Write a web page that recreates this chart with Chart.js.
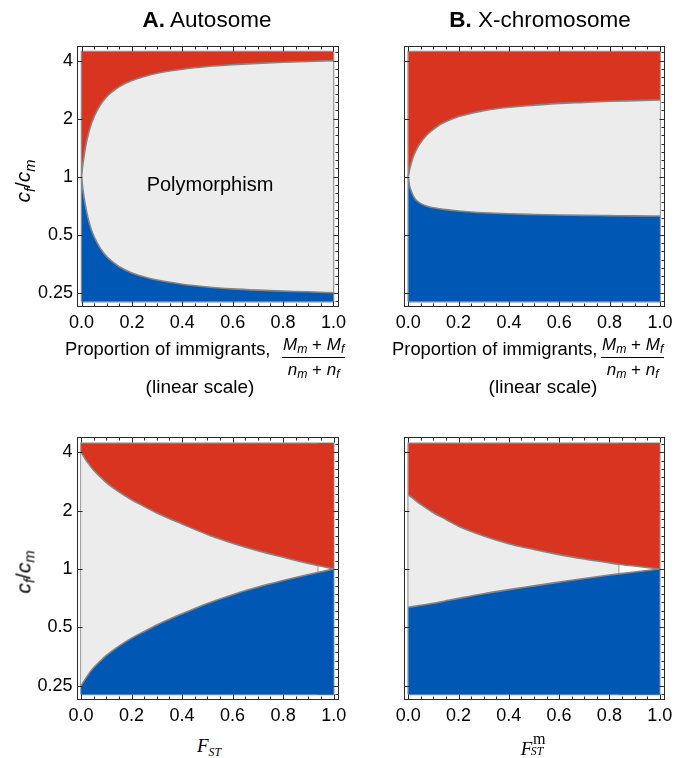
<!DOCTYPE html>
<html>
<head>
<meta charset="utf-8">
<script src="https://cdn.jsdelivr.net/npm/chart.js@4.4.1/dist/chart.umd.min.js"></script>
<style>
  body { margin: 0; background: #fff; width: 675px; height: 758px; position: relative; overflow: hidden;
         font-family: "Liberation Sans", Arial, sans-serif; color: #000; }
  canvas { position: absolute; }
  .t { position: absolute; white-space: nowrap; line-height: 1; z-index: 2; }
  .c { transform: translateX(-50%); }
  .frac { position: absolute; z-index: 2; font-size: 17px; line-height: 1; text-align: center; white-space: nowrap; }
  .frac .num { display: block; padding: 0 1px 2px; border-bottom: 1.2px solid #000; }
  .frac .den { display: block; padding-top: 3px; }
  .frac i, .ylab i { font-style: italic; }
  .frac sub { font-size: 72%; font-style: italic; vertical-align: -0.25em; }
  .ylab { position: absolute; z-index: 2; font-size: 21px; line-height: 1; white-space: nowrap;
          transform: translate(-50%, -50%) rotate(-90deg); }
  .ylab sub { font-size: 70%; font-style: italic; vertical-align: -0.3em; }
  .fst { position: absolute; z-index: 2; font-family: "Liberation Serif", "DejaVu Serif", serif; font-size: 19px;
         line-height: 1; white-space: nowrap; transform: translateX(-50%); }
  .fst i { font-style: italic; }
  .fst .sub { font-size: 62%; font-style: italic; vertical-align: -0.35em; }
  .fst .ss { position: relative; display: inline-block; width: 0.78em; height: 1em; }
  .fst .ss .up { position: absolute; left: 0.04em; top: -0.3em; font-size: 85%; font-style: normal; line-height: 1; }
  .fst .ss .dn { position: absolute; left: -0.14em; top: 0.82em; font-size: 62%; font-style: italic; line-height: 1; }
</style>
</head>
<body>
<canvas id="pA" width="355" height="340" style="left:0;top:0"></canvas>
<canvas id="pB" width="335" height="340" style="left:340px;top:0"></canvas>
<canvas id="pC" width="355" height="340" style="left:0;top:390px"></canvas>
<canvas id="pD" width="335" height="340" style="left:340px;top:390px"></canvas>

<div class="t c" style="left:207px;top:9px;font-size:22.5px"><b>A.</b> Autosome</div>
<div class="t c" style="left:540px;top:9px;font-size:22.5px"><b>B.</b> X-chromosome</div>

<div class="t c" style="left:210px;top:174px;font-size:20px">Polymorphism</div>

<div class="t" style="left:65px;top:340px;font-size:18.4px">Proportion of immigrants,</div>
<div class="frac" style="left:282px;top:336px"><span class="num"><i>M</i><sub>m</sub> + <i>M</i><sub>f</sub></span><span class="den"><i>n</i><sub>m</sub> + <i>n</i><sub>f</sub></span></div>
<div class="t c" style="left:200px;top:377px;font-size:19px">(linear scale)</div>

<div class="t" style="left:392px;top:340px;font-size:18.4px">Proportion of immigrants,</div>
<div class="frac" style="left:601px;top:336px"><span class="num"><i>M</i><sub>m</sub> + <i>M</i><sub>f</sub></span><span class="den"><i>n</i><sub>m</sub> + <i>n</i><sub>f</sub></span></div>
<div class="t c" style="left:543px;top:377px;font-size:19px">(linear scale)</div>

<div class="ylab" style="left:25px;top:181px"><i>c</i><sub>f</sub>/<i>c</i><sub>m</sub></div>
<div class="ylab" style="left:25px;top:572px"><i>c</i><sub>f</sub>/<i>c</i><sub>m</sub></div>

<div class="fst" style="left:209px;top:736px"><i>F</i><span class="sub">ST</span></div>
<div class="fst" style="left:534px;top:736px"><i>F</i><span class="ss"><span class="up">m</span><span class="dn">ST</span></span></div>

<script>
// ---- data -------------------------------------------------------------
// Top row: proportion of immigrants (Mm+Mf)/(nm+nf)
const immigX    = [0, 0.005, 0.01, 0.02, 0.03, 0.04, 0.05, 0.075, 0.1, 0.125, 0.15, 0.2, 0.25, 0.3, 0.4, 0.5, 0.6, 0.7, 0.8, 0.9, 1.0];
// A. Autosome: upper / lower c_f/c_m boundary of the polymorphic region
const autoUpper = [1, 1.15, 1.28, 1.52, 1.72, 1.9, 2.05, 2.36, 2.6, 2.78, 2.93, 3.15, 3.31, 3.44, 3.61, 3.73, 3.81, 3.87, 3.92, 3.96, 4.0];
const autoLower = [1, 0.87, 0.78, 0.66, 0.58, 0.526, 0.488, 0.424, 0.385, 0.36, 0.341, 0.317, 0.302, 0.291, 0.277, 0.268, 0.262, 0.258, 0.255, 0.253, 0.25];
// B. X-chromosome
const xchrUpper = [1, 1.08, 1.15, 1.27, 1.36, 1.44, 1.51, 1.65, 1.76, 1.86, 1.93, 2.05, 2.13, 2.2, 2.29, 2.35, 2.4, 2.43, 2.46, 2.48, 2.5];
const xchrLower = [1, 0.9, 0.855, 0.795, 0.76, 0.74, 0.725, 0.703, 0.69, 0.682, 0.675, 0.664, 0.656, 0.65, 0.642, 0.637, 0.633, 0.63, 0.628, 0.626, 0.625];

// Bottom left: F_ST
const fstX      = [0, 0.025, 0.05, 0.075, 0.1, 0.15, 0.2, 0.25, 0.3, 0.4, 0.5, 0.6, 0.7, 0.8, 0.9, 0.937, 1.0];
const fstUpper  = [4, 3.555, 3.227, 2.99, 2.79, 2.497, 2.274, 2.1, 1.945, 1.705, 1.505, 1.357, 1.24, 1.149, 1.068, 1.0425, 1.0];
const fstLower  = [0.25, 0.281, 0.31, 0.334, 0.358, 0.4, 0.44, 0.476, 0.514, 0.587, 0.664, 0.737, 0.806, 0.871, 0.936, 0.959, 1.0];
const fstCut    = 0.937;   // polymorphism region shaded up to here

// Bottom right: F_ST^m
const fstmX     = [0, 0.05, 0.1, 0.15, 0.2, 0.3, 0.4, 0.5, 0.6, 0.7, 0.8, 0.837, 0.9, 1.0];
const fstmUpper = [2.42, 2.15, 1.95, 1.8, 1.66, 1.48, 1.35, 1.26, 1.185, 1.125, 1.075, 1.058, 1.035, 1.0];
const fstmLower = [0.634, 0.65, 0.665, 0.685, 0.705, 0.745, 0.782, 0.818, 0.855, 0.893, 0.93, 0.943, 0.965, 1.0];
const fstmCut   = 0.837;

// axes
const xTicks = [0, 0.2, 0.4, 0.6, 0.8, 1.0];
const yTicks = [0.25, 0.5, 1, 2, 4];
const regionTop = 4.45, regionBottom = 0.225;   // plotted c_f/c_m range

// ---- drawing ----------------------------------------------------------
const RED = '#d9341f', BLUE = '#0058b4', GREY = '#ececec', EDGE = '#858585', AXIS = '#2a2a2a';
Chart.defaults.font.family = '"Liberation Sans", Arial, sans-serif';
Chart.defaults.color = '#000';

// Frame with inward-pointing ticks on all four sides
const frameTicks = {
  id: 'frameTicks',
  afterDraw(chart) {
    const {ctx, chartArea: a, scales: {x, y}} = chart;
    const L = Math.round(a.left) + 0.5, R = Math.round(a.right) - 0.5;
    const T = Math.round(a.top) + 0.5, B = Math.round(a.bottom) - 0.5;
    ctx.save();
    ctx.strokeStyle = AXIS;
    ctx.lineWidth = 1;
    ctx.strokeRect(L, T, R - L, B - T);
    ctx.beginPath();
    for (let k = 0; k <= 20; k++) {
      const v = k * 0.05;
      const px = Math.round(x.getPixelForValue(v)) + 0.5;
      const len = (k % 4 === 0) ? 5 : 3;
      ctx.moveTo(px, B); ctx.lineTo(px, B - len);
      ctx.moveTo(px, T); ctx.lineTo(px, T + len);
    }
    for (const v of yTicks) {
      const py = Math.round(y.getPixelForValue(v)) + 0.5;
      ctx.moveTo(L, py); ctx.lineTo(L + 5, py);
      ctx.moveTo(R, py); ctx.lineTo(R - 5, py);
    }
    for (let k = -16; k <= 16; k++) {
      if (k % 7 === 0) continue;
      const v = Math.pow(2, k / 7);
      if (v <= y.min || v >= y.max) continue;
      const py = Math.round(y.getPixelForValue(v)) + 0.5;
      ctx.moveTo(R, py); ctx.lineTo(R - 3, py);
    }
    ctx.stroke();
    ctx.restore();
  }
};

function panel(id, box, frame, xs, upper, lower, cut, showY) {
  const pts = ys => xs.map((x, i) => ({x, y: ys[i]}));
  const curve = {borderColor: EDGE, borderWidth: 1.6, cubicInterpolationMode: 'monotone', pointRadius: 0};
  const datasets = [
    Object.assign({data: pts(upper), fill: {value: regionTop}, backgroundColor: RED}, curve),
    Object.assign({data: pts(lower), fill: {value: regionBottom}, backgroundColor: BLUE}, curve),
    {data: [{x: 0, y: regionTop}, {x: cut, y: regionTop}], borderWidth: 0, pointRadius: 0,
     fill: {value: regionBottom}, backgroundColor: GREY},
    {data: [{x: 0, y: regionBottom}, {x: 0, y: regionTop}, {x: 1, y: regionTop}, {x: 1, y: regionBottom}, {x: 0, y: regionBottom}],
     borderColor: EDGE, borderWidth: 1.6, pointRadius: 0, fill: false, tension: 0}
  ];
  if (cut < 1) {
    const i = xs.indexOf(cut);
    datasets.push({data: [{x: cut, y: lower[i]}, {x: cut, y: upper[i]}], borderColor: EDGE, borderWidth: 1.3,
                   pointRadius: 0, fill: false});
  }
  return new Chart(document.getElementById(id), {
    type: 'line',
    data: {datasets},
    options: {
      responsive: false, animation: false, devicePixelRatio: 1,
      layout: {padding: {top: frame.t - box.t, right: box.l + box.w - frame.r, left: 0, bottom: 0}},
      plugins: {legend: {display: false}, tooltip: {enabled: false}},
      events: [],
      scales: {
        x: {
          type: 'linear', min: -0.018, max: 1.02,
          afterBuildTicks: s => { s.ticks = xTicks.map(v => ({value: v})); },
          afterFit: s => { s.height = box.t + box.h - frame.b; s.paddingLeft = 0; s.paddingRight = 0; },
          grid: {display: false, drawTicks: false}, border: {display: false},
          ticks: {callback: v => v.toFixed(1), font: {size: 18}, color: '#000', padding: 6,
                  maxRotation: 0, autoSkip: false}
        },
        y: {
          type: 'logarithmic', min: 0.2117, max: 4.79,
          afterBuildTicks: s => { s.ticks = yTicks.map(v => ({value: v})); },
          afterFit: s => { s.width = frame.l - box.l; s.paddingTop = 0; s.paddingBottom = 0; },
          grid: {display: false, drawTicks: false}, border: {display: false},
          ticks: {display: showY, callback: v => String(v), font: {size: 18}, color: '#000', padding: 4,
                  autoSkip: false}
        }
      }
    },
    plugins: [frameTicks]
  });
}

panel('pA', {l: 0,   t: 0,   w: 355, h: 340}, {l: 77,    t: 45.5, r: 338.5, b: 306.7}, immigX, autoUpper, autoLower, 1, true);
panel('pB', {l: 340, t: 0,   w: 335, h: 340}, {l: 403.7, t: 45.5, r: 665,   b: 306.7}, immigX, xchrUpper, xchrLower, 1, false);
panel('pC', {l: 0,   t: 390, w: 355, h: 340}, {l: 76.5,  t: 437,  r: 338.7, b: 699.7}, fstX, fstUpper, fstLower, fstCut, true);
panel('pD', {l: 340, t: 390, w: 335, h: 340}, {l: 403.7, t: 437,  r: 664.7, b: 699.7}, fstmX, fstmUpper, fstmLower, fstmCut, false);
</script>
</body>
</html>
